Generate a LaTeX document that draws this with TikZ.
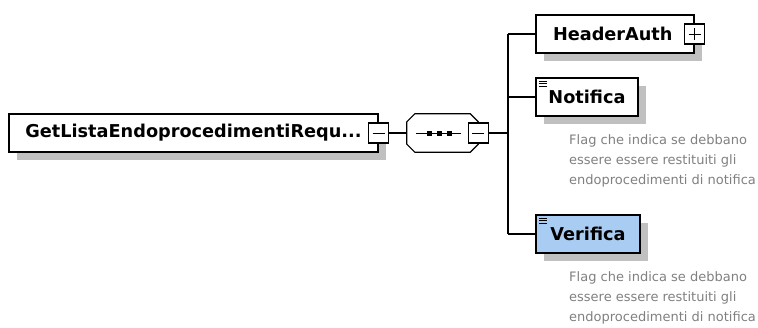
\documentclass[tikz,border=0pt]{standalone}
\usepackage{fontspec}
\setmainfont{DejaVu Sans}
\usetikzlibrary{shadows}

\definecolor{descgray}{RGB}{128,128,128}
\definecolor{selblue}{RGB}{168,204,242}
\definecolor{shadowgray}{RGB}{192,192,192}

\tikzset{
  elem/.style={draw, fill=white, line width=1.2pt, inner sep=0pt,
    minimum height=38pt, font=\bfseries\fontsize{17.7}{20}\selectfont,
    drop shadow={shadow xshift=8pt, shadow yshift=-8pt, fill=shadowgray, opacity=1}},
  simple/.style={elem, path picture={
    \foreach \dy in {3pt,5.5pt,8pt}
      \draw[line width=0.8pt] ([shift={(3pt,-\dy)}]path picture bounding box.north west) -- ++(8,0);}},
  toggle/.style={draw, fill=white, line width=1.2pt, minimum size=20pt, inner sep=0pt},
  minus/.style={toggle, path picture={
    \draw[line width=1pt] ([xshift=4pt]path picture bounding box.west) -- ([xshift=-4pt]path picture bounding box.east);}},
  plus/.style={toggle, path picture={
    \draw[line width=1pt] ([xshift=4pt]path picture bounding box.west) -- ([xshift=-4pt]path picture bounding box.east);
    \draw[line width=1pt] ([yshift=4pt]path picture bounding box.south) -- ([yshift=-4pt]path picture bounding box.north);}},
  desc/.style={anchor=north west, inner sep=0pt, align=left, text=descgray,
    font=\fontsize{13}{19.7}\selectfont},
  wire/.style={line width=1.2pt}
}

\begin{document}
\begin{tikzpicture}[x=1pt, y=-1pt]
\useasboundingbox (0,0) rectangle (758,327);

% root element
\node[elem, minimum width=369pt] (root) at (193.5,133) {GetListaEndoprocedimentiRequ...};
\node[minus] (rootminus) at (root.east) {};

% sequence compositor
\node[minimum width=71pt, minimum height=38pt, inner sep=0pt] (seq) at (442.5,133) {};
\fill[shadowgray, shift={(8,8)}]
  ([xshift=8pt]seq.north west) -- ([xshift=-8pt]seq.north east) -- ([yshift=-8pt]seq.north east)
  -- ([yshift=8pt]seq.south east) -- ([xshift=-8pt]seq.south east) -- ([xshift=8pt]seq.south west)
  -- ([yshift=8pt]seq.south west) -- ([yshift=-8pt]seq.north west) -- cycle;
\draw[wire, fill=white]
  ([xshift=8pt]seq.north west) -- ([xshift=-8pt]seq.north east) -- ([yshift=-8pt]seq.north east)
  -- ([yshift=8pt]seq.south east) -- ([xshift=-8pt]seq.south east) -- ([xshift=8pt]seq.south west)
  -- ([yshift=8pt]seq.south west) -- ([yshift=-8pt]seq.north west) -- cycle;
\draw[line width=1pt] ([xshift=9pt]seq.west) -- ([xshift=-17pt]seq.east);
\foreach \dx in {-13.5,-3.5,6.5}
  \fill ([xshift=\dx pt]seq.center) ++(-2.5,-2.5) rectangle ++(5,5);
\node[minus] (seqminus) at (seq.east) {};

% children
\node[elem, text width=124pt, inner xsep=17pt, align=left] (head) at (615,34) {HeaderAuth};
\node[plus] (headplus) at (head.east) {};
\node[simple, minimum width=102pt] (notif) at (587,97) {Notifica};
\node[simple, minimum width=104pt, fill=selblue] (verif) at (588,234) {Verifica};

\node[desc] (notifdesc) at (569,134.6) {Flag che indica se debbano\\essere essere restituiti gli\\endoprocedimenti di notifica};
\node[desc] (verifdesc) at (569,271.8) {Flag che indica se debbano\\essere essere restituiti gli\\endoprocedimenti di notifica};

% connectors
\coordinate (trunk) at (508,133);
\draw[wire] (rootminus.east) -- (seq.west);
\draw[wire] (seqminus.east) -- (trunk);
\draw[wire] (trunk |- head.west) -- (trunk |- verif.west);
\draw[wire] (trunk |- head.west) -- (head.west);
\draw[wire] (trunk |- notif.west) -- (notif.west);
\draw[wire] (trunk |- verif.west) -- (verif.west);
\end{tikzpicture}
\end{document}
